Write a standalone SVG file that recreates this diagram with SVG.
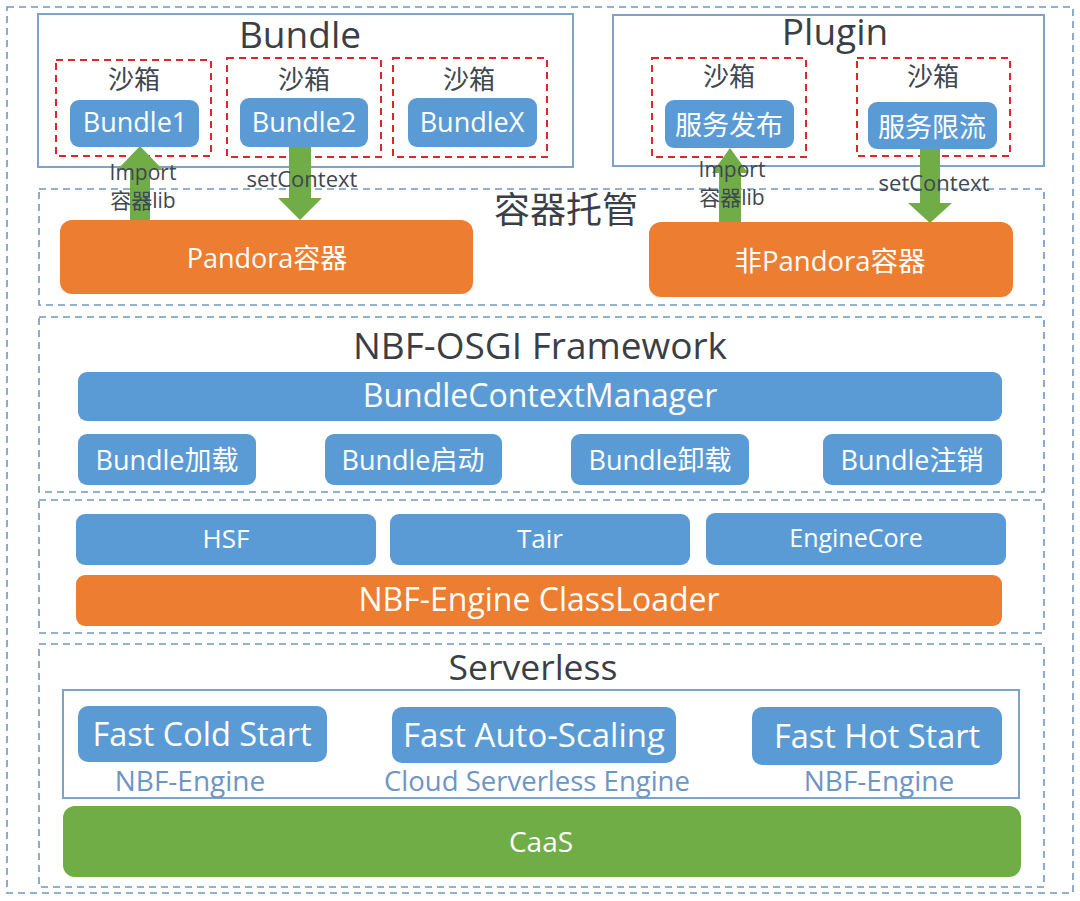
<svg xmlns="http://www.w3.org/2000/svg" width="1080" height="901" viewBox="0 0 1080 901">
<defs>
<style>
text{font-family:"Open Sans","Noto Sans CJK SC",sans-serif;text-anchor:middle;}
.outer{fill:none;stroke:#6f98c0;stroke-width:1.6;stroke-dasharray:7 5;}
.solid{fill:#fff;stroke:#7ea3c8;stroke-width:2;}
.sand{fill:none;stroke:#e0242c;stroke-width:2;stroke-dasharray:7 5;}
.blue{fill:#5b9bd5;}
.orange{fill:#ed7d31;}
.green{fill:#70ad47;}
.title{fill:#3a3f47;}
.wt{fill:#fff;}
.lab{fill:#3f4750;}
.sub{fill:#6e95c4;}
.garrow{fill:#70ad47;}
.conn{stroke:#5b8fc8;stroke-width:1.5;fill:none;}
</style>
<marker id="ah" markerWidth="10" markerHeight="10" refX="9" refY="5" orient="auto" markerUnits="userSpaceOnUse">
<path d="M0,1 L10,5 L0,9 Z" fill="#5b8fc8"/>
</marker>
</defs>
<rect width="1080" height="901" fill="#fff"/>
<rect class="outer" x="7" y="7" width="1066" height="886"/>

<g id="bundle-group">
<rect class="solid" x="38" y="14" width="535" height="153"/>
<text class="title" x="300" y="48" font-size="37">Bundle</text>
</g>
<g id="sandbox1"><rect class="sand" x="56" y="60" width="155" height="96"/><text class="lab" x="134" y="89" font-size="26">沙箱</text></g>
<g id="sandbox2"><rect class="sand" x="227" y="58" width="154" height="99"/><text class="lab" x="304" y="89" font-size="26">沙箱</text></g>
<g id="sandbox3"><rect class="sand" x="393" y="58" width="154" height="99"/><text class="lab" x="469" y="89" font-size="26">沙箱</text></g>
<g id="bundle1"><rect class="blue" x="70" y="100" width="129" height="47" rx="9"/><text class="wt" x="135" y="132" font-size="27">Bundle1</text></g>
<g id="bundle2"><rect class="blue" x="240" y="98" width="128" height="49" rx="9"/><text class="wt" x="304" y="132" font-size="27">Bundle2</text></g>
<g id="bundlex"><rect class="blue" x="408" y="98" width="129" height="49" rx="9"/><text class="wt" x="472" y="132" font-size="27">BundleX</text></g>

<g id="plugin-group">
<rect class="solid" x="613" y="15" width="431" height="151"/>
<text class="title" x="835" y="45" font-size="37">Plugin</text>
</g>
<g id="sandbox4"><rect class="sand" x="652" y="58" width="154" height="99"/><text class="lab" x="729" y="86" font-size="26">沙箱</text></g>
<g id="sandbox5"><rect class="sand" x="857" y="58" width="153" height="98"/><text class="lab" x="933" y="86" font-size="26">沙箱</text></g>
<g id="svc-publish"><rect class="blue" x="665" y="100" width="129" height="48" rx="9"/><text class="wt" x="729" y="135" font-size="27">服务发布</text></g>
<g id="svc-limit"><rect class="blue" x="868" y="102" width="129" height="47" rx="9"/><text class="wt" x="932" y="137" font-size="27">服务限流</text></g>

<g id="container-hosting">
<rect class="outer" x="39" y="189" width="1005" height="116"/>
<text class="title" x="566" y="223" font-size="36">容器托管</text>
</g>
<g id="pandora"><rect class="orange" x="60" y="220" width="413" height="74" rx="12"/><text class="wt" x="267" y="268" font-size="27">Pandora容器</text></g>
<g id="non-pandora"><rect class="orange" x="649" y="222" width="364" height="75" rx="12"/><text class="wt" x="830" y="271" font-size="27.5">非Pandora容器</text></g>

<g id="connectors">
<polygon class="garrow" points="130,220 150,220 150,170 163,170 140,146 117,170 130,170"/>
<polygon class="garrow" points="289,147 311,147 311,198 322,198 300,220 278,198 289,198"/>
<polygon class="garrow" points="719,222 741,222 741,173 748,173 730,148 712,173 719,173"/>
<polygon class="garrow" points="920,149 940,149 940,203 952,203 930,223 908,203 920,203"/>
<line class="conn" x1="327" y1="734" x2="392" y2="734" marker-end="url(#ah)"/>
<line class="conn" x1="676" y1="735" x2="752" y2="735" marker-end="url(#ah)"/>
<text class="lab" x="143" y="180" font-size="21">Import</text>
<text class="lab" x="143" y="208" font-size="21">容器lib</text>
<text class="lab" x="302" y="187" font-size="22">setContext</text>
<text class="lab" x="732" y="177" font-size="21">Import</text>
<text class="lab" x="732" y="205" font-size="21">容器lib</text>
<text class="lab" x="934" y="191" font-size="22">setContext</text>
</g>

<g id="osgi">
<rect class="outer" x="39" y="317" width="1005" height="175"/>
<text class="title" x="540" y="359" font-size="37">NBF-OSGI Framework</text>
</g>
<g id="bcm"><rect class="blue" x="78" y="372" width="924" height="49" rx="9"/><text class="wt" x="540" y="407" font-size="32">BundleContextManager</text></g>
<g id="b-load"><rect class="blue" x="78" y="434" width="178" height="51" rx="9"/><text class="wt" x="167" y="470" font-size="27">Bundle加载</text></g>
<g id="b-start"><rect class="blue" x="325" y="434" width="177" height="51" rx="9"/><text class="wt" x="413" y="470" font-size="27">Bundle启动</text></g>
<g id="b-unload"><rect class="blue" x="571" y="434" width="178" height="51" rx="9"/><text class="wt" x="660" y="470" font-size="27">Bundle卸载</text></g>
<g id="b-logout"><rect class="blue" x="823" y="434" width="179" height="51" rx="9"/><text class="wt" x="912" y="470" font-size="27">Bundle注销</text></g>

<g id="engine-layer"><rect class="outer" x="39" y="500" width="1005" height="133"/></g>
<g id="hsf"><rect class="blue" x="76" y="514" width="300" height="51" rx="9"/><text class="wt" x="226" y="548" font-size="26">HSF</text></g>
<g id="tair"><rect class="blue" x="390" y="514" width="300" height="51" rx="9"/><text class="wt" x="540" y="548" font-size="26">Tair</text></g>
<g id="enginecore"><rect class="blue" x="706" y="513" width="300" height="52" rx="9"/><text class="wt" x="856" y="547" font-size="25">EngineCore</text></g>
<g id="classloader"><rect class="orange" x="76" y="575" width="926" height="51" rx="9"/><text class="wt" x="539" y="611" font-size="32">NBF-Engine ClassLoader</text></g>

<g id="serverless">
<rect class="outer" x="39" y="644" width="1005" height="243"/>
<text class="title" x="533" y="680" font-size="35.5">Serverless</text>
<rect class="solid" x="63" y="690" width="956" height="108" fill="none"/>
</g>
<g id="cold"><rect class="blue" x="78" y="706" width="249" height="56" rx="10"/><text class="wt" x="202" y="746" font-size="32.5">Fast Cold Start</text><text class="sub" x="190" y="791" font-size="28">NBF-Engine</text></g>
<g id="autoscale"><rect class="blue" x="392" y="707" width="284" height="56" rx="10"/><text class="wt" x="534" y="747" font-size="33">Fast Auto-Scaling</text><text class="sub" x="537" y="791" font-size="27.5">Cloud Serverless Engine</text></g>
<g id="hot"><rect class="blue" x="752" y="707" width="250" height="58" rx="10"/><text class="wt" x="877" y="748" font-size="32.5">Fast Hot Start</text><text class="sub" x="879" y="791" font-size="28">NBF-Engine</text></g>
<g id="caas"><rect class="green" x="63" y="806" width="958" height="71" rx="12"/><text class="wt" x="541" y="852" font-size="28">CaaS</text></g>
</svg>
